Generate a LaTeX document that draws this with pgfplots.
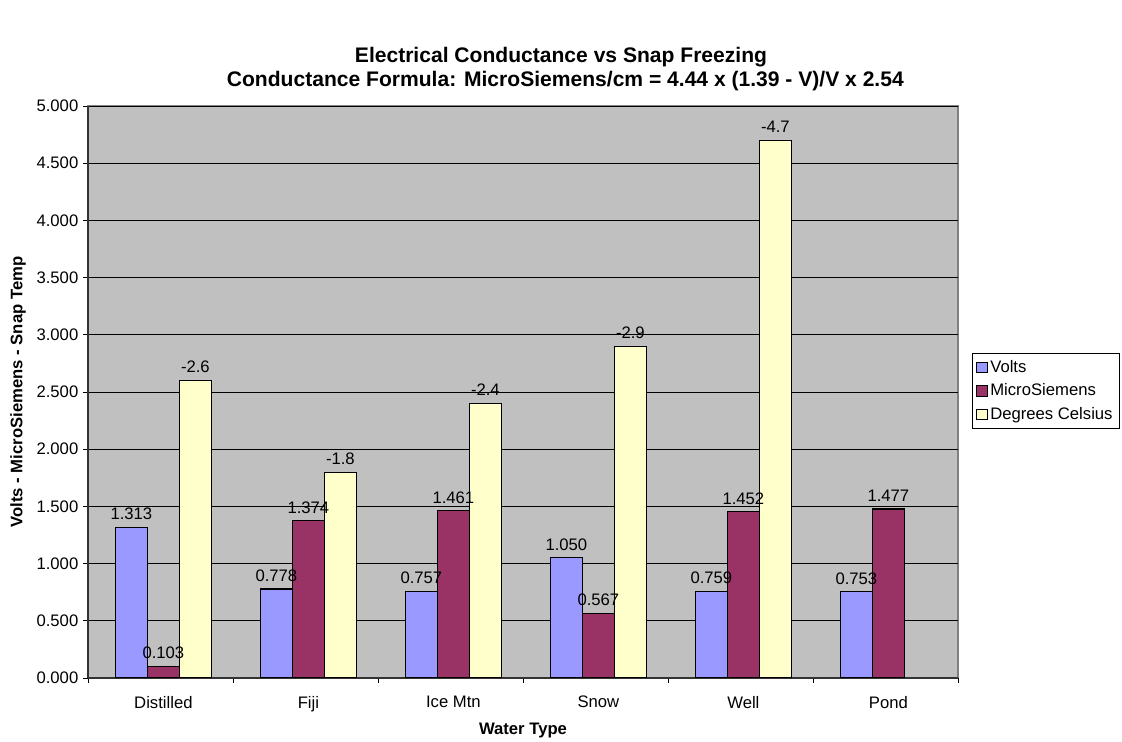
\documentclass[border=0pt]{standalone}
\usepackage{fontspec}
\setmainfont{Liberation Sans}
\usepackage{pgfplots}
\pgfplotsset{compat=1.18}
\definecolor{volts}{HTML}{9999FF}
\definecolor{micro}{HTML}{993366}
\definecolor{deg}{HTML}{FFFFCC}
\definecolor{plotbg}{HTML}{C0C0C0}
\newcommand{\fs}{\fontsize{12.5}{15}\selectfont}
\begin{document}
\begin{tikzpicture}
\useasboundingbox (0,0) rectangle (841.5pt,556.5pt);
\node[font=\bfseries\fontsize{15.8}{18}\selectfont] at (420.75pt,514pt) {Electrical Conductance vs Snap Freezing};
\node[font=\bfseries\fontsize{15.8}{18}\selectfont] at (424pt,496pt) {Conductance Formula: MicroSiemens/cm = 4.44 x (1.39 - V)/V x 2.54};
\node[rotate=90, font=\bfseries\fs] at (13.5pt,262.5pt) {Volts - MicroSiemens - Snap Temp};
\begin{axis}[
  at={(66pt,48pt)}, anchor=south west,
  scale only axis, width=652.5pt, height=429pt,
  ybar=0pt, bar width=24pt,
  xmin=-0.52, xmax=5.48, ymin=0, ymax=5,
  axis x line*=bottom, axis y line*=left,
  axis line style={draw=black!80, line width=0.8pt},
  axis background/.style={fill=plotbg, draw=gray, line width=0.8pt},
  ytick={0,0.5,1,1.5,2,2.5,3,3.5,4,4.5,5},
  yticklabel style={font=\fs, /pgf/number format/.cd, fixed, fixed zerofill, precision=3, assume math mode=true},
  xtick={-0.52,0.48,1.48,2.48,3.48,4.48,5.48},
  xticklabels={},
  extra x ticks={0,1,2,3,4,5},
  extra x tick labels={Distilled,Fiji,Ice Mtn,Snow,Well,Pond},
  extra x tick style={major tick length=0pt, tick label style={font=\fs, yshift=-10pt}},
  tick align=outside, major tick length=3.75pt,
  tick style={black, line width=0.6pt},
  ymajorgrids, major grid style={black, line width=0.6pt},
  xlabel={Water Type},
  xlabel style={font=\bfseries\fs, at={(axis description cs:0.5,0)}, anchor=center, yshift=-39pt},
  legend style={at={(1.016,0.502)}, anchor=west, draw=black, fill=white, font=\fs, cells={anchor=west}, row sep=3pt, inner sep=3pt},
  legend image code/.code={\draw[#1, draw=black, line width=0.6pt] (0pt,-4pt) rectangle (8pt,4pt);},
  point meta=explicit symbolic,
  nodes near coords,
  every node near coord/.append style={font=\fs, black, yshift=2pt},
  every axis plot/.append style={draw=black, line width=0.8pt},
]
\addplot[fill=volts] coordinates {(0,1.313) [1.313] (1,0.778) [0.778] (2,0.757) [0.757] (3,1.050) [1.050] (4,0.759) [0.759] (5,0.753) [0.753]};
\addplot[fill=micro] coordinates {(0,0.103) [0.103] (1,1.374) [1.374] (2,1.461) [1.461] (3,0.567) [0.567] (4,1.452) [1.452] (5,1.477) [1.477]};
\addplot[fill=deg] coordinates {(0,2.6) [-2.6] (1,1.8) [-1.8] (2,2.4) [-2.4] (3,2.9) [-2.9] (4,4.7) [-4.7]};
\legend{Volts,MicroSiemens,Degrees Celsius}
\end{axis}
\end{tikzpicture}
\end{document}
